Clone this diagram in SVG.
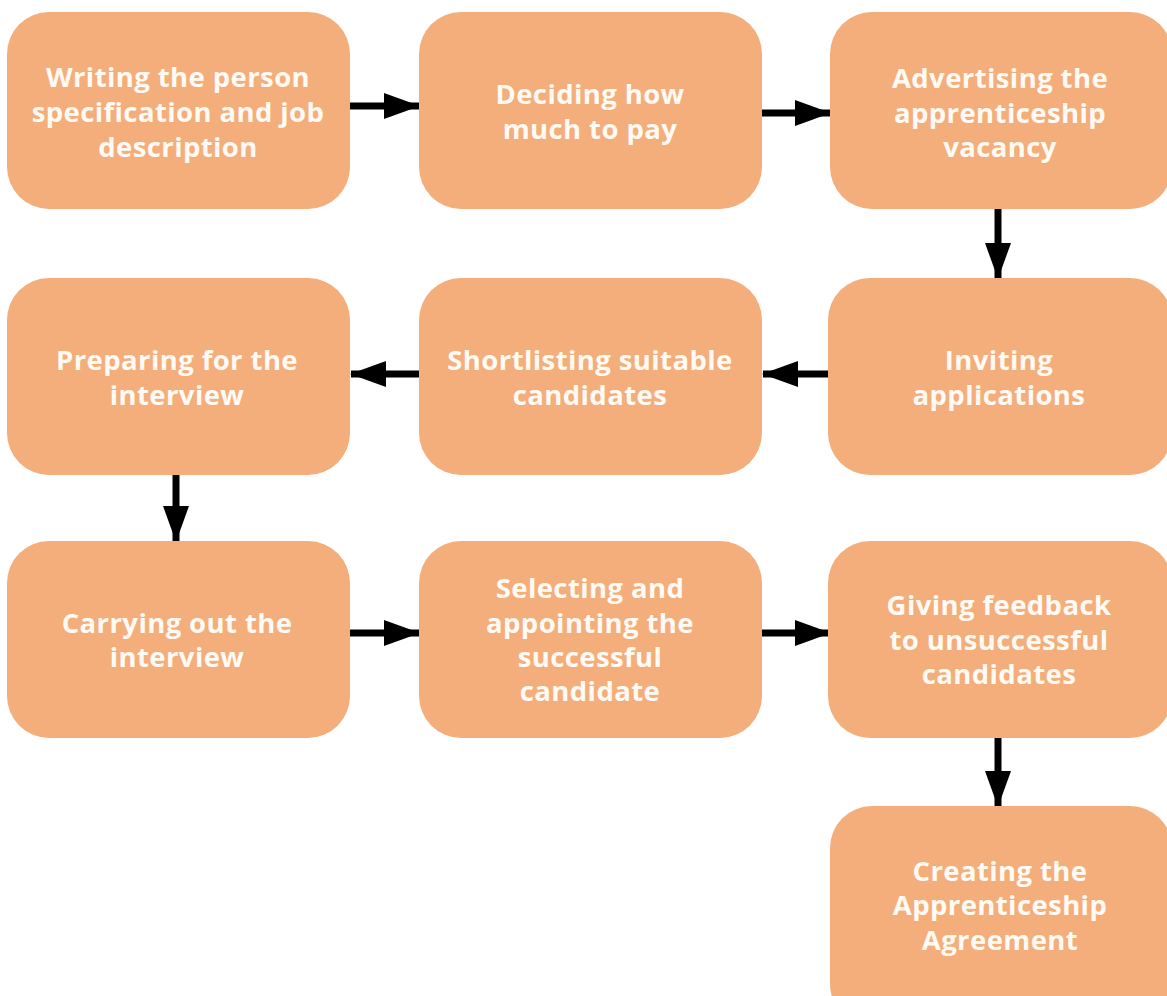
<svg xmlns="http://www.w3.org/2000/svg" width="1167" height="996" viewBox="0 0 1167 996">
<style>
.box{fill:#f3ae7b;}
.t{font-family:"Open Sans","Noto Sans",sans-serif;font-weight:700;font-size:27.5px;letter-spacing:0.4px;fill:#fffaf4;text-anchor:middle;}
.c{stroke:#000;stroke-width:7;fill:none;}
</style>
<defs>
<marker id="ah" markerUnits="userSpaceOnUse" markerWidth="36" markerHeight="26" refX="35" refY="13" orient="auto">
<path d="M0,0 L36,13 L0,26 Z" fill="#000"/>
</marker>
</defs>
<rect width="1167" height="996" fill="#fff"/>
<g id="connectors">
<line class="c" x1="350" y1="106" x2="419" y2="106" marker-end="url(#ah)"/>
<line class="c" x1="762" y1="113" x2="830" y2="113" marker-end="url(#ah)"/>
<line class="c" x1="998" y1="209" x2="998" y2="278" marker-end="url(#ah)"/>
<line class="c" x1="828" y1="374" x2="763" y2="374" marker-end="url(#ah)"/>
<line class="c" x1="419" y1="374" x2="351" y2="374" marker-end="url(#ah)"/>
<line class="c" x1="176" y1="475" x2="176" y2="541" marker-end="url(#ah)"/>
<line class="c" x1="350" y1="633" x2="419" y2="633" marker-end="url(#ah)"/>
<line class="c" x1="762" y1="633" x2="830" y2="633" marker-end="url(#ah)"/>
<line class="c" x1="998" y1="737" x2="998" y2="806" marker-end="url(#ah)"/>
</g>
<g id="n1"><rect class="box" x="7" y="12" width="343" height="197" rx="42"/>
<text class="t" x="178" y="87">Writing the person</text><text class="t" x="178" y="122">specification and job</text><text class="t" x="178" y="157">description</text></g>
<g id="n2"><rect class="box" x="419" y="12" width="343" height="197" rx="42"/>
<text class="t" x="590" y="104">Deciding how</text><text class="t" x="590" y="139">much to pay</text></g>
<g id="n3"><rect class="box" x="830" y="12" width="342" height="197" rx="42"/>
<text class="t" x="1000" y="88">Advertising the</text><text class="t" x="1000" y="123">apprenticeship</text><text class="t" x="1000" y="157">vacancy</text></g>
<g id="n4"><rect class="box" x="828" y="278" width="344" height="197" rx="42"/>
<text class="t" x="999" y="370">Inviting</text><text class="t" x="999" y="405">applications</text></g>
<g id="n5"><rect class="box" x="419" y="278" width="343" height="197" rx="42"/>
<text class="t" x="590" y="370">Shortlisting suitable</text><text class="t" x="590" y="405">candidates</text></g>
<g id="n6"><rect class="box" x="7" y="278" width="343" height="197" rx="42"/>
<text class="t" x="177" y="370">Preparing for the</text><text class="t" x="177" y="405">interview</text></g>
<g id="n7"><rect class="box" x="7" y="541" width="343" height="197" rx="42"/>
<text class="t" x="177" y="633">Carrying out the</text><text class="t" x="177" y="667">interview</text></g>
<g id="n8"><rect class="box" x="419" y="541" width="343" height="197" rx="42"/>
<text class="t" x="590" y="598">Selecting and</text><text class="t" x="590" y="633">appointing the</text><text class="t" x="590" y="667">successful</text><text class="t" x="590" y="701">candidate</text></g>
<g id="n9"><rect class="box" x="828" y="541" width="344" height="197" rx="42"/>
<text class="t" x="999" y="615">Giving feedback</text><text class="t" x="999" y="650">to unsuccessful</text><text class="t" x="999" y="684">candidates</text></g>
<g id="n10"><rect class="box" x="830" y="806" width="342" height="220" rx="42"/>
<text class="t" x="1000" y="881">Creating the</text><text class="t" x="1000" y="915">Apprenticeship</text><text class="t" x="1000" y="950">Agreement</text></g>
</svg>
